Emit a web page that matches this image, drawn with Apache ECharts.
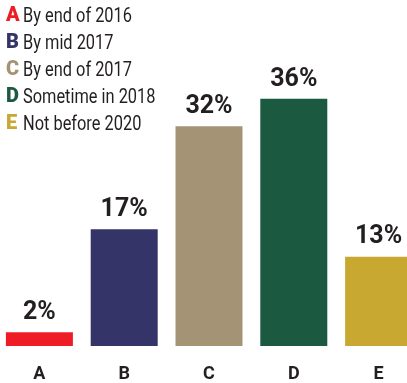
<!DOCTYPE html>
<html>
<head>
<meta charset="utf-8">
<script src="https://cdn.jsdelivr.net/npm/echarts@6/dist/echarts.min.js"></script>
<style>
  html, body { margin: 0; padding: 0; background: #fff; overflow: hidden; width: 407px; height: 383px; }
  /* the last bar runs off the right edge, so the canvas is wider than the page */
  #chart { position: absolute; left: -3px; top: 0; width: 424px; height: 383px; }
</style>
</head>
<body>
<div id="chart"></div>
<script>
// Survey answers: when will it happen?
const categories = ['A', 'B', 'C', 'D', 'E'];
const answers = ['By end of 2016', 'By mid 2017', 'By end of 2017', 'Sometime in 2018', 'Not before 2020'];
const shares = [2, 17, 32, 36, 13];
const colors = ['#ee1c25', '#343469', '#a49374', '#1b5a40', '#c8a830'];

const ink = '#231f20';
const font = 'Roboto, "Liberation Sans", sans-serif';
const offsetX = 3; // canvas starts 3px left of the page

// Key in the top-left corner: coloured letter followed by the answer text
const key = [];
categories.forEach((c, i) => {
  const y = 6 + i * 27;
  key.push({
    type: 'text', x: offsetX + 6, y: y,
    style: { text: c, fontFamily: font, fontWeight: 900, fontSize: 20, fill: colors[i], textVerticalAlign: 'top' }
  });
  key.push({
    type: 'text', x: offsetX + 23, y: y, scaleX: 0.78, originX: 0,
    style: { text: answers[i], fontFamily: font, fontSize: 21, fill: ink, textVerticalAlign: 'top' }
  });
});

const chart = echarts.init(document.getElementById('chart'));
chart.setOption({
  animation: false,
  grid: { left: 0, right: 0, top: 71.3, bottom: 35 },
  xAxis: {
    type: 'category',
    data: categories,
    axisLine: { show: false },
    axisTick: { show: false },
    axisLabel: { color: ink, fontFamily: font, fontWeight: 'bold', fontSize: 18, margin: 19 }
  },
  yAxis: {
    type: 'value', min: 0, max: 40,
    show: false
  },
  series: [{
    type: 'bar',
    barWidth: 67,
    data: shares.map((v, i) => ({ value: v, itemStyle: { color: colors[i] } })),
    label: {
      show: true,
      position: 'top',
      distance: 7,
      formatter: '{c}%',
      color: ink,
      fontFamily: font,
      fontWeight: 'bold',
      fontSize: 25
    }
  }],
  graphic: key
});
</script>
</body>
</html>
